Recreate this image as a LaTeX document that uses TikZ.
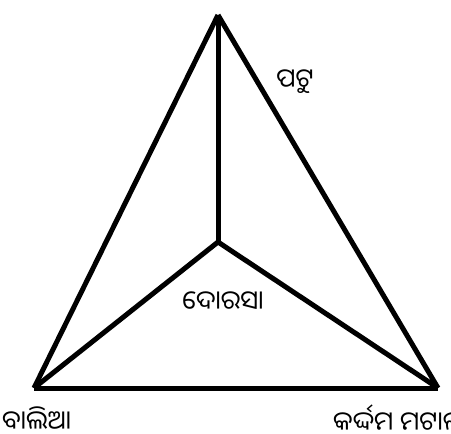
\documentclass[tikz,border=0pt]{standalone}
\usepackage{fontspec}
\newfontfamily\odiafont[Script=Oriya]{Noto Sans Oriya UI}
\usetikzlibrary{positioning}
\tikzset{
  edge/.style={line width=5pt,line cap=butt},
  soil/.style={font=\odiafont\fontsize{26}{30}\selectfont,inner sep=0pt},
}
\begin{document}
\begin{tikzpicture}[x=1pt,y=-1pt]
\useasboundingbox (0,0) rectangle (451,434);
\coordinate (top) at (218,15);
\coordinate (left) at (34,388);
\coordinate (right) at (438,388);
\coordinate (mid) at (218,242);
\draw[edge] (top) -- (left);
\draw[edge] (top) -- (right);
\draw[edge] (left) -- (right);
\draw[edge] (top) -- (mid);
\draw[edge] (mid) -- (left);
\draw[edge] (mid) -- (right);
\node[soil,anchor=west] (sand) at (2,419) {ବାଲିଆ};
\node[soil,anchor=west] (clay) at (333,419) {କର୍ଦ୍ଦମ ମଟାଳ};
\node[soil] (silt) at (295,82) {ପଟୁ};
\node[soil] (loam) at (223,302) {ଦୋରସା};
\end{tikzpicture}
\end{document}
